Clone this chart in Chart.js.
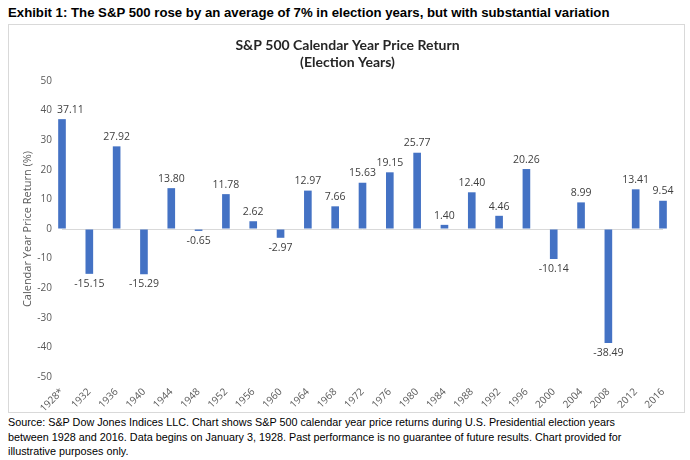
<!DOCTYPE html>
<html>
<head>
<meta charset="utf-8">
<script src="https://cdn.jsdelivr.net/npm/chart.js@4"></script>
<style>
html,body{margin:0;padding:0;background:#fff;width:690px;height:460px;overflow:hidden;}
#hdr{position:absolute;left:8px;top:5px;font:bold 13.2px "Liberation Sans",Arial,sans-serif;color:#000;white-space:nowrap;}
#box{position:absolute;left:8px;top:24px;width:675px;height:387px;border:1px solid #d9d9d9;}
#ftr{position:absolute;left:8px;top:415px;font:10.8px "Liberation Sans",Arial,sans-serif;color:#000;line-height:14.5px;width:680px;}
</style>
</head>
<body>
<div id="hdr">Exhibit 1: The S&amp;P 500 rose by an average of 7% in election years, but with substantial variation</div>
<div id="box"><canvas id="c" width="675" height="387"></canvas></div>
<div id="ftr">Source: S&amp;P Dow Jones Indices LLC. Chart shows S&amp;P 500 calendar year price returns during U.S. Presidential election years<br>between 1928 and 2016. Data begins on January 3, 1928. Past performance is no guarantee of future results. Chart provided for<br>illustrative purposes only.</div>
<script>
const years = ["1928*","1932","1936","1940","1944","1948","1952","1956","1960","1964","1968","1972","1976","1980","1984","1988","1992","1996","2000","2004","2008","2012","2016"];
const returns = [37.11,-15.15,27.92,-15.29,13.80,-0.65,11.78,2.62,-2.97,12.97,7.66,15.63,19.15,25.77,1.40,12.40,4.46,20.26,-10.14,8.99,-38.49,13.41,9.54];
const yTicks = [50,40,30,20,10,0,-10,-20,-30,-40,-50];
const chartTitle = ["S&P 500 Calendar Year Price Return","(Election Years)"];
const yTitle = "Calendar Year Price Return (%)";

const titlePlugin = {
  id:'ttl',
  afterDraw(chart){
    const ctx = chart.ctx;
    ctx.save();
    ctx.fillStyle = '#262626';
    ctx.font = 'bold 14px Lato';
    ctx.textAlign = 'center';
    ctx.textBaseline = 'middle';
    const cx = chart.width/2 + 1;
    ctx.fillText(chartTitle[0], cx, 20);
    ctx.fillText(chartTitle[1], cx, 37);
    ctx.restore();
  }
};
const labelPlugin = {
  id:'lbl',
  afterDatasetsDraw(chart){
    const ctx = chart.ctx;
    const meta = chart.getDatasetMeta(0);
    const left = chart.chartArea.left - 5;
    ctx.save();
    ctx.fillStyle = '#404040';
    ctx.font = '10.5px "Open Sans"';
    ctx.textAlign = 'center';
    meta.data.forEach((bar,i)=>{
      const v = returns[i];
      const t = v.toFixed(2);
      const w = ctx.measureText(t).width;
      let x = bar.x;
      if (x - w/2 < left) x = left + w/2;
      if (v >= 0) { ctx.textBaseline='bottom'; ctx.fillText(t, x, bar.y - 4); }
      else { ctx.textBaseline='top'; ctx.fillText(t, x, bar.y + 5); }
    });
    ctx.restore();
  }
};

new Chart(document.getElementById('c'), {
  type:'bar',
  data:{labels:years, datasets:[{data:returns, backgroundColor:'#4472C4', barPercentage:0.28, categoryPercentage:1, clip:false}]},
  plugins:[titlePlugin,labelPlugin],
  options:{
    responsive:false, animation:false, devicePixelRatio:1,
    layout:{padding:{top:56,left:0,right:21,bottom:0}},
    plugins:{legend:{display:false},tooltip:{enabled:false}},
    scales:{
      x:{
        offset:false,
        grid:{display:false}, border:{display:false},
        ticks:{color:'#595959', font:{family:'Open Sans', size:10}, maxRotation:45, minRotation:45, autoSkip:false, padding:1},
        afterFit(s){ s.height = 35; }
      },
      y:{
        min:-50, max:50,
        afterBuildTicks(s){ s.ticks = yTicks.map(v=>({value:v})); },
        grid:{color:c=> (c.tick && c.tick.value===0) ? '#d9d9d9' : 'rgba(0,0,0,0)', drawTicks:false, lineWidth:1},
        border:{display:false},
        ticks:{color:'#595959', font:{family:'Open Sans', size:10}, padding:10},
        title:{display:true, text:yTitle, color:'#595959', font:{family:'Open Sans', size:11}, padding:{top:12,bottom:0}},
        afterFit(s){ s.width = 53; }
      }
    }
  }
});
</script>
</body>
</html>
